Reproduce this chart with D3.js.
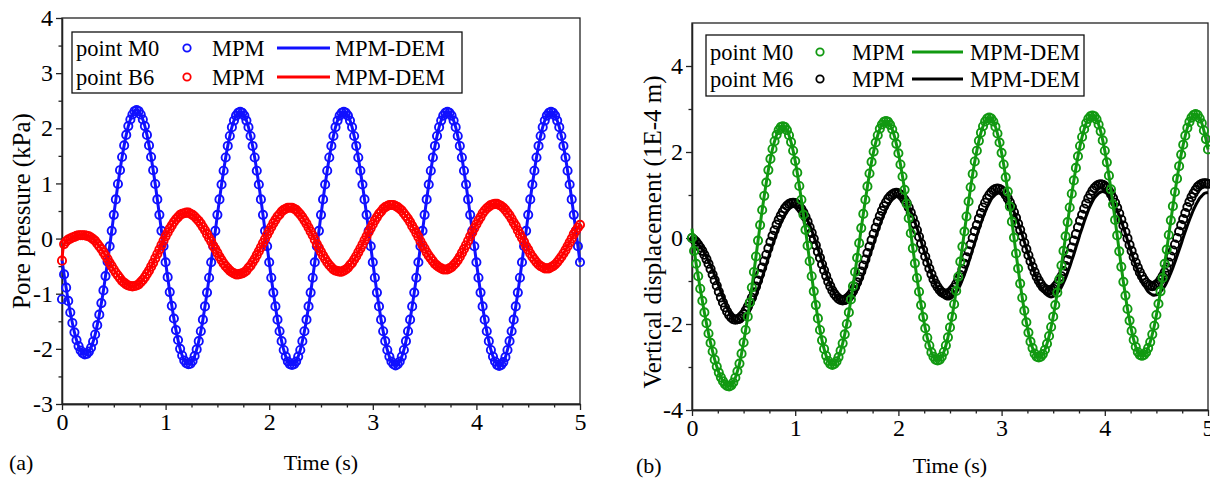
<!DOCTYPE html>
<html>
<head>
<meta charset="utf-8">
<script src="https://cdn.jsdelivr.net/npm/d3@7"></script>
<style>
  body { margin: 0; background: #fff; }
  svg { display: block; }
</style>
</head>
<body>
<svg id="fig" width="1210" height="478"></svg>
<script>
// Sampling interval of the recorded histories (s)
const timeStep = 0.02;

// Panel (a): pore pressure (kPa)
const m0PressureMpm = [
  -1.10,-0.65,-0.89,-1.13,-1.34,-1.53,-1.70,-1.84,-1.95,-2.03,-2.08,
  -2.10,-2.09,-2.05,-1.98,-1.87,-1.74,-1.57,-1.38,-1.17,-0.94,-0.68,-0.42,-0.14,0.14,0.43,0.71,0.99,1.24,1.48,1.69,1.88,2.04,2.16,2.25,2.31,2.33,
  2.31,2.25,2.16,2.04,1.88,1.69,1.48,1.24,0.99,0.71,0.43,0.14,-0.14,-0.43,-0.70,-0.97,-1.22,-1.45,-1.66,-1.84,-2.00,-2.12,-2.21,-2.26,-2.28,
  -2.27,-2.22,-2.13,-2.01,-1.86,-1.68,-1.47,-1.23,-0.98,-0.71,-0.43,-0.14,0.14,0.43,0.71,0.98,1.23,1.47,1.68,1.86,2.02,2.14,2.23,2.28,2.30,2.28,2.23,2.14,2.02,1.86,1.68,1.47,1.23,0.98,0.71,0.43,0.14,-0.14,-0.43,-0.71,-0.98,-1.23,-1.47,-1.68,-1.86,-2.02,-2.14,-2.23,-2.28,-2.29,
  -2.28,-2.23,-2.14,-2.02,-1.86,-1.68,-1.47,-1.23,-0.98,-0.71,-0.43,-0.14,0.14,0.43,0.71,0.98,1.23,1.47,1.68,1.86,2.02,2.14,2.23,2.28,2.30,2.28,2.23,2.14,2.02,1.86,1.68,1.47,1.23,0.98,0.71,0.43,0.14,-0.14,-0.43,-0.71,-0.98,-1.23,-1.47,-1.68,-1.86,-2.02,-2.14,-2.23,-2.28,-2.30,
  -2.28,-2.23,-2.14,-2.02,-1.86,-1.68,-1.47,-1.23,-0.98,-0.71,-0.43,-0.14,0.14,0.43,0.71,0.98,1.23,1.47,1.68,1.86,2.02,2.14,2.23,2.28,2.30,2.28,2.23,2.14,2.02,1.86,1.68,1.47,1.23,0.98,0.71,0.43,0.14,-0.14,-0.43,-0.71,-0.98,-1.23,-1.47,-1.68,-1.86,-2.02,-2.14,-2.23,-2.29,-2.31,
  -2.29,-2.24,-2.15,-2.02,-1.86,-1.68,-1.47,-1.23,-0.98,-0.71,-0.43,-0.14,0.14,0.43,0.71,0.98,1.23,1.47,1.68,1.86,2.02,2.14,2.23,2.28,2.30,2.28,2.23,2.14,2.02,1.86,1.68,1.47,1.23,0.98,0.71,0.43,0.14,-0.14,-0.43
];
const m0PressureDem = [
  -0.39,-0.65,-0.89,-1.13,-1.34,-1.53,-1.70,-1.84,-1.95,-2.03,-2.08,
  -2.10,-2.09,-2.05,-1.98,-1.87,-1.74,-1.57,-1.38,-1.17,-0.94,-0.68,-0.42,-0.14,0.14,0.43,0.71,0.99,1.24,1.48,1.69,1.88,2.04,2.16,2.25,2.31,2.33,
  2.31,2.25,2.16,2.04,1.88,1.69,1.48,1.24,0.99,0.71,0.43,0.14,-0.14,-0.43,-0.70,-0.97,-1.22,-1.45,-1.66,-1.84,-2.00,-2.12,-2.21,-2.26,-2.28,
  -2.27,-2.22,-2.13,-2.01,-1.86,-1.68,-1.47,-1.23,-0.98,-0.71,-0.43,-0.14,0.14,0.43,0.71,0.98,1.23,1.47,1.68,1.86,2.02,2.14,2.23,2.28,2.30,2.28,2.23,2.14,2.02,1.86,1.68,1.47,1.23,0.98,0.71,0.43,0.14,-0.14,-0.43,-0.71,-0.98,-1.23,-1.47,-1.68,-1.86,-2.02,-2.14,-2.23,-2.28,-2.29,
  -2.28,-2.23,-2.14,-2.02,-1.86,-1.68,-1.47,-1.23,-0.98,-0.71,-0.43,-0.14,0.14,0.43,0.71,0.98,1.23,1.47,1.68,1.86,2.02,2.14,2.23,2.28,2.30,2.28,2.23,2.14,2.02,1.86,1.68,1.47,1.23,0.98,0.71,0.43,0.14,-0.14,-0.43,-0.71,-0.98,-1.23,-1.47,-1.68,-1.86,-2.02,-2.14,-2.23,-2.28,-2.30,
  -2.28,-2.23,-2.14,-2.02,-1.86,-1.68,-1.47,-1.23,-0.98,-0.71,-0.43,-0.14,0.14,0.43,0.71,0.98,1.23,1.47,1.68,1.86,2.02,2.14,2.23,2.28,2.30,2.28,2.23,2.14,2.02,1.86,1.68,1.47,1.23,0.98,0.71,0.43,0.14,-0.14,-0.43,-0.71,-0.98,-1.23,-1.47,-1.68,-1.86,-2.02,-2.14,-2.23,-2.29,-2.31,
  -2.29,-2.24,-2.15,-2.02,-1.86,-1.68,-1.47,-1.23,-0.98,-0.71,-0.43,-0.14,0.14,0.43,0.71,0.98,1.23,1.47,1.68,1.86,2.02,2.14,2.23,2.28,2.30,2.28,2.23,2.14,2.02,1.86,1.68,1.47,1.23,0.98,0.71,0.43,0.14,-0.14,-0.43
];
const b6PressureMpm = [
  -0.40,-0.10,-0.05,-0.02,0.00,0.02,0.03,0.05,0.06,0.06,0.06,0.06,
  0.05,0.04,0.02,-0.01,-0.04,-0.09,-0.14,-0.19,-0.25,-0.31,-0.37,-0.44,-0.50,-0.56,-0.62,-0.67,-0.72,-0.77,-0.80,-0.83,-0.85,-0.86,-0.87,
  -0.86,-0.85,-0.83,-0.79,-0.75,-0.70,-0.64,-0.58,-0.51,-0.44,-0.36,-0.28,-0.20,-0.12,-0.04,0.04,0.11,0.18,0.24,0.30,0.35,0.39,0.43,0.45,0.46,0.47,
  0.47,0.45,0.43,0.40,0.36,0.32,0.27,0.21,0.15,0.08,0.01,-0.05,-0.13,-0.19,-0.26,-0.33,-0.39,-0.45,-0.50,-0.54,-0.58,-0.61,-0.63,-0.65,-0.65,
  -0.64,-0.63,-0.61,-0.58,-0.53,-0.49,-0.43,-0.37,-0.30,-0.23,-0.16,-0.08,-0.01,0.07,0.14,0.21,0.28,0.34,0.40,0.44,0.49,0.52,0.54,0.56,0.56,
  0.56,0.54,0.52,0.48,0.44,0.39,0.33,0.27,0.20,0.13,0.06,-0.02,-0.10,-0.17,-0.24,-0.31,-0.37,-0.43,-0.48,-0.52,-0.56,-0.58,-0.59,-0.60,
  -0.60,-0.58,-0.56,-0.53,-0.48,-0.44,-0.38,-0.32,-0.25,-0.18,-0.11,-0.03,0.04,0.12,0.19,0.26,0.33,0.39,0.45,0.49,0.54,0.57,0.59,0.61,0.61,
  0.61,0.59,0.57,0.54,0.51,0.46,0.41,0.36,0.30,0.23,0.17,0.10,0.03,-0.05,-0.12,-0.18,-0.25,-0.31,-0.36,-0.41,-0.46,-0.49,-0.52,-0.54,-0.56,-0.56,
  -0.56,-0.54,-0.52,-0.48,-0.44,-0.39,-0.33,-0.26,-0.19,-0.12,-0.04,0.04,0.11,0.19,0.26,0.33,0.39,0.46,0.51,0.55,0.58,0.61,0.62,0.63,
  0.63,0.61,0.59,0.56,0.52,0.47,0.42,0.36,0.29,0.23,0.15,0.08,0.01,-0.06,-0.14,-0.20,-0.27,-0.33,-0.38,-0.43,-0.47,-0.50,-0.52,-0.54,-0.54,
  -0.54,-0.52,-0.50,-0.47,-0.43,-0.38,-0.33,-0.27,-0.21,-0.14,-0.07,0.00,0.08,0.14,0.20,0.25
];
const b6PressureDem = [
  -0.40,-0.10,-0.05,-0.02,0.00,0.02,0.03,0.05,0.06,0.06,0.06,0.06,
  0.05,0.04,0.02,-0.01,-0.04,-0.09,-0.14,-0.19,-0.25,-0.31,-0.37,-0.44,-0.50,-0.56,-0.62,-0.67,-0.72,-0.77,-0.80,-0.83,-0.85,-0.86,-0.87,
  -0.86,-0.85,-0.83,-0.79,-0.75,-0.70,-0.64,-0.58,-0.51,-0.44,-0.36,-0.28,-0.20,-0.12,-0.04,0.04,0.11,0.18,0.24,0.30,0.35,0.39,0.43,0.45,0.46,0.47,
  0.47,0.45,0.43,0.40,0.36,0.32,0.27,0.21,0.15,0.08,0.01,-0.05,-0.13,-0.19,-0.26,-0.33,-0.39,-0.45,-0.50,-0.54,-0.58,-0.61,-0.63,-0.65,-0.65,
  -0.64,-0.63,-0.61,-0.58,-0.53,-0.49,-0.43,-0.37,-0.30,-0.23,-0.16,-0.08,-0.01,0.07,0.14,0.21,0.28,0.34,0.40,0.44,0.49,0.52,0.54,0.56,0.56,
  0.56,0.54,0.52,0.48,0.44,0.39,0.33,0.27,0.20,0.13,0.06,-0.02,-0.10,-0.17,-0.24,-0.31,-0.37,-0.43,-0.48,-0.52,-0.56,-0.58,-0.59,-0.60,
  -0.60,-0.58,-0.56,-0.53,-0.48,-0.44,-0.38,-0.32,-0.25,-0.18,-0.11,-0.03,0.04,0.12,0.19,0.26,0.33,0.39,0.45,0.49,0.54,0.57,0.59,0.61,0.61,
  0.61,0.59,0.57,0.54,0.51,0.46,0.41,0.36,0.30,0.23,0.17,0.10,0.03,-0.05,-0.12,-0.18,-0.25,-0.31,-0.36,-0.41,-0.46,-0.49,-0.52,-0.54,-0.56,-0.56,
  -0.56,-0.54,-0.52,-0.48,-0.44,-0.39,-0.33,-0.26,-0.19,-0.12,-0.04,0.04,0.11,0.19,0.26,0.33,0.39,0.46,0.51,0.55,0.58,0.61,0.62,0.63,
  0.63,0.61,0.59,0.56,0.52,0.47,0.42,0.36,0.29,0.23,0.15,0.08,0.01,-0.06,-0.14,-0.20,-0.27,-0.33,-0.38,-0.43,-0.47,-0.50,-0.52,-0.54,-0.54,
  -0.54,-0.52,-0.50,-0.47,-0.43,-0.38,-0.33,-0.27,-0.21,-0.14,-0.07,0.00,0.08,0.14,0.20,0.25
];

// Panel (b): vertical displacement (1E-4 m)
const m0DispMpm = [
  0.00,-0.30,-0.60,-0.89,-1.18,-1.46,-1.73,-1.98,-2.22,-2.44,-2.64,-2.83,-2.99,-3.13,-3.24,-3.33,-3.40,-3.44,-3.45,
  -3.43,-3.36,-3.25,-3.10,-2.92,-2.69,-2.43,-2.14,-1.83,-1.50,-1.15,-0.79,-0.43,-0.06,0.30,0.65,0.98,1.29,1.58,1.84,2.07,2.25,2.40,2.51,2.58,2.60,
  2.58,2.51,2.39,2.23,2.03,1.79,1.52,1.21,0.89,0.54,0.19,-0.18,-0.54,-0.89,-1.24,-1.56,-1.87,-2.14,-2.38,-2.58,-2.74,-2.86,-2.93,-2.95,
  -2.93,-2.87,-2.77,-2.62,-2.45,-2.24,-2.00,-1.73,-1.43,-1.12,-0.79,-0.46,-0.12,0.23,0.56,0.89,1.20,1.50,1.77,2.01,2.22,2.39,2.54,2.64,2.70,2.72,
  2.70,2.63,2.53,2.38,2.19,1.97,1.71,1.43,1.12,0.80,0.46,0.11,-0.24,-0.59,-0.93,-1.25,-1.56,-1.84,-2.10,-2.32,-2.50,-2.66,-2.76,-2.83,-2.85,
  -2.83,-2.76,-2.65,-2.50,-2.31,-2.08,-1.83,-1.54,-1.23,-0.90,-0.55,-0.20,0.15,0.50,0.85,1.18,1.49,1.78,2.03,2.26,2.45,2.60,2.71,2.78,2.80,
  2.78,2.71,2.59,2.43,2.22,1.98,1.71,1.41,1.08,0.73,0.38,0.01,-0.36,-0.71,-1.06,-1.39,-1.69,-1.96,-2.20,-2.41,-2.56,-2.69,-2.76,-2.78,
  -2.76,-2.70,-2.60,-2.46,-2.28,-2.07,-1.83,-1.56,-1.27,-0.96,-0.64,-0.30,0.04,0.37,0.71,1.03,1.34,1.63,1.90,2.14,2.35,2.53,2.67,2.77,2.83,2.85,
  2.83,2.76,2.64,2.48,2.27,2.03,1.76,1.45,1.13,0.78,0.42,0.06,-0.31,-0.67,-1.02,-1.34,-1.65,-1.92,-2.16,-2.37,-2.53,-2.65,-2.72,-2.74,
  -2.72,-2.66,-2.56,-2.42,-2.24,-2.04,-1.79,-1.53,-1.24,-0.93,-0.60,-0.27,0.07,0.41,0.74,1.07,1.38,1.67,1.94,2.17,2.38,2.56,2.70,2.80,2.86,2.88,
  2.86,2.78,2.67,2.50,2.30,2.06
];
const m0DispDem = [
  0.22,-0.22,-0.60,-0.89,-1.18,-1.46,-1.73,-1.98,-2.22,-2.44,-2.64,-2.83,-2.99,-3.13,-3.24,-3.33,-3.40,-3.44,-3.45,
  -3.43,-3.36,-3.25,-3.10,-2.92,-2.69,-2.43,-2.14,-1.83,-1.50,-1.15,-0.79,-0.43,-0.06,0.30,0.65,0.98,1.29,1.58,1.84,2.07,2.25,2.40,2.51,2.58,2.60,
  2.58,2.51,2.39,2.23,2.03,1.79,1.52,1.21,0.89,0.54,0.19,-0.18,-0.54,-0.89,-1.24,-1.56,-1.87,-2.14,-2.38,-2.58,-2.74,-2.86,-2.93,-2.95,
  -2.93,-2.87,-2.77,-2.62,-2.45,-2.24,-2.00,-1.73,-1.43,-1.12,-0.79,-0.46,-0.12,0.23,0.56,0.89,1.20,1.50,1.77,2.01,2.22,2.39,2.54,2.64,2.70,2.72,
  2.70,2.63,2.53,2.38,2.19,1.97,1.71,1.43,1.12,0.80,0.46,0.11,-0.24,-0.59,-0.93,-1.25,-1.56,-1.84,-2.10,-2.32,-2.50,-2.66,-2.76,-2.83,-2.85,
  -2.83,-2.76,-2.65,-2.50,-2.31,-2.08,-1.83,-1.54,-1.23,-0.90,-0.55,-0.20,0.15,0.50,0.85,1.18,1.49,1.78,2.03,2.26,2.45,2.60,2.71,2.78,2.80,
  2.78,2.71,2.59,2.43,2.22,1.98,1.71,1.41,1.08,0.73,0.38,0.01,-0.36,-0.71,-1.06,-1.39,-1.69,-1.96,-2.20,-2.41,-2.56,-2.69,-2.76,-2.78,
  -2.76,-2.70,-2.60,-2.46,-2.28,-2.07,-1.83,-1.56,-1.27,-0.96,-0.64,-0.30,0.04,0.37,0.71,1.03,1.34,1.63,1.90,2.14,2.35,2.53,2.67,2.77,2.83,2.85,
  2.83,2.76,2.64,2.48,2.27,2.03,1.76,1.45,1.13,0.78,0.42,0.06,-0.31,-0.67,-1.02,-1.34,-1.65,-1.92,-2.16,-2.37,-2.53,-2.65,-2.72,-2.74,
  -2.72,-2.66,-2.56,-2.42,-2.24,-2.04,-1.79,-1.53,-1.24,-0.93,-0.60,-0.27,0.07,0.41,0.74,1.07,1.38,1.67,1.94,2.17,2.38,2.56,2.70,2.80,2.86,2.88,
  2.86,2.78,2.67,2.50,2.30,2.06
];
const m6DispMpm = [
  0.00,-0.04,-0.09,-0.15,-0.22,-0.30,-0.39,-0.49,-0.60,-0.72,-0.85,-0.98,-1.11,-1.25,-1.38,-1.50,-1.61,-1.71,-1.79,-1.85,-1.89,-1.90,
  -1.89,-1.87,-1.82,-1.77,-1.69,-1.60,-1.50,-1.39,-1.26,-1.13,-0.99,-0.84,-0.69,-0.54,-0.39,-0.24,-0.09,0.05,0.18,0.31,0.42,0.52,0.61,0.69,0.75,0.79,0.81,0.82,
  0.81,0.78,0.73,0.67,0.59,0.49,0.38,0.25,0.12,-0.02,-0.17,-0.32,-0.46,-0.61,-0.75,-0.88,-1.01,-1.12,-1.22,-1.30,-1.36,-1.41,-1.44,-1.45,
  -1.44,-1.41,-1.37,-1.31,-1.23,-1.14,-1.03,-0.91,-0.78,-0.64,-0.50,-0.35,-0.20,-0.05,0.10,0.24,0.38,0.51,0.63,0.74,0.83,0.91,0.97,1.01,1.04,1.05,
  1.04,1.01,0.96,0.89,0.81,0.71,0.59,0.46,0.33,0.18,0.03,-0.13,-0.28,-0.43,-0.57,-0.71,-0.84,-0.96,-1.06,-1.14,-1.21,-1.26,-1.29,-1.30,
  -1.29,-1.26,-1.21,-1.15,-1.07,-0.97,-0.86,-0.73,-0.60,-0.45,-0.31,-0.15,0.00,0.16,0.30,0.45,0.58,0.71,0.82,0.92,1.00,1.06,1.11,1.14,1.15,
  1.14,1.11,1.07,1.00,0.92,0.83,0.72,0.60,0.47,0.33,0.19,0.04,-0.11,-0.26,-0.40,-0.54,-0.67,-0.79,-0.90,-0.99,-1.07,-1.14,-1.18,-1.21,-1.22,
  -1.21,-1.18,-1.13,-1.07,-0.98,-0.89,-0.77,-0.65,-0.51,-0.37,-0.22,-0.06,0.09,0.25,0.40,0.54,0.68,0.80,0.92,1.01,1.10,1.16,1.21,1.24,1.25,
  1.24,1.21,1.17,1.10,1.02,0.93,0.82,0.70,0.57,0.43,0.29,0.14,-0.01,-0.16,-0.30,-0.44,-0.57,-0.69,-0.80,-0.89,-0.97,-1.04,-1.08,-1.11,-1.12,
  -1.11,-1.08,-1.04,-0.97,-0.89,-0.80,-0.69,-0.57,-0.43,-0.29,-0.15,0.00,0.15,0.30,0.44,0.58,0.72,0.84,0.95,1.04,1.12,1.19,1.23,1.26,1.27,
  1.27,1.26
];
const m6DispDem = [
  0.00,-0.03,-0.08,-0.14,-0.20,-0.27,-0.35,-0.44,-0.54,-0.64,-0.75,-0.87,-0.99,-1.12,-1.25,-1.38,-1.50,-1.62,-1.73,-1.82,-1.90,-1.95,-1.97,
  -1.96,-1.94,-1.89,-1.84,-1.76,-1.68,-1.57,-1.46,-1.34,-1.20,-1.06,-0.92,-0.77,-0.62,-0.46,-0.31,-0.17,-0.03,0.11,0.23,0.34,0.44,0.53,0.61,0.67,0.71,0.73,0.74,
  0.73,0.70,0.65,0.59,0.51,0.41,0.30,0.18,0.04,-0.10,-0.24,-0.39,-0.54,-0.68,-0.82,-0.96,-1.08,-1.19,-1.29,-1.37,-1.43,-1.48,-1.51,-1.52,
  -1.51,-1.48,-1.44,-1.38,-1.30,-1.21,-1.10,-0.98,-0.85,-0.72,-0.57,-0.42,-0.28,-0.13,0.02,0.17,0.30,0.43,0.55,0.66,0.75,0.83,0.89,0.93,0.96,0.97,
  0.96,0.93,0.88,0.81,0.72,0.62,0.50,0.37,0.23,0.09,-0.07,-0.23,-0.38,-0.53,-0.68,-0.82,-0.95,-1.07,-1.17,-1.26,-1.33,-1.38,-1.41,-1.42,
  -1.41,-1.38,-1.33,-1.27,-1.18,-1.09,-0.97,-0.85,-0.71,-0.57,-0.42,-0.26,-0.11,0.05,0.20,0.34,0.48,0.60,0.72,0.81,0.90,0.96,1.01,1.04,1.05,
  1.04,1.01,0.97,0.90,0.82,0.72,0.61,0.49,0.36,0.21,0.07,-0.08,-0.24,-0.39,-0.53,-0.68,-0.81,-0.93,-1.04,-1.14,-1.22,-1.29,-1.33,-1.36,-1.37,
  -1.36,-1.33,-1.28,-1.22,-1.14,-1.04,-0.93,-0.80,-0.67,-0.52,-0.38,-0.22,-0.07,0.09,0.23,0.38,0.51,0.64,0.75,0.85,0.93,0.99,1.04,1.07,1.08,
  1.07,1.04,1.00,0.93,0.85,0.75,0.64,0.52,0.39,0.25,0.10,-0.05,-0.20,-0.35,-0.50,-0.64,-0.77,-0.89,-1.00,-1.10,-1.18,-1.25,-1.29,-1.32,-1.33,
  -1.32,-1.30,-1.25,-1.19,-1.12,-1.03,-0.93,-0.81,-0.69,-0.56,-0.42,-0.28,-0.14,0.01,0.15,0.29,0.42,0.54,0.66,0.76,0.85,0.93,0.98,1.03,1.05,1.06
];

// Axis ticks
const timeTicks = [0, 1, 2, 3, 4, 5];
const pressureTicks = [-3, -2, -1, 0, 1, 2, 3, 4];
const dispTicks = [-4, -2, 0, 2, 4];

// Legend text
const legendNamesA = ["point M0", "point B6"];
const legendNamesB = ["point M0", "point M6"];
const methodNames = ["MPM", "MPM-DEM"];

const FONT = "'Liberation Serif', 'Times New Roman', serif";
const svg = d3.select("#fig");

const panels = [
  {
    tag: "(a)", tagX: 9, labelY: 470,
    box: { left: 62, right: 580, top: 18, bottom: 404 },
    yDomain: [-3, 4], yTicks: pressureTicks, yMinorStep: 0.5,
    yTitle: "Pore pressure (kPa)", yTitleX: 21, yTitleY: 211,
    series: [
      { name: legendNamesA[0], color: "#1010ff", mpm: m0PressureMpm, dem: m0PressureDem },
      { name: legendNamesA[1], color: "#ff0000", mpm: b6PressureMpm, dem: b6PressureDem }
    ],
    drawOrder: [0, 1],
    legend: { x: 72, y: 32, w: 390, h: 61, rowY: [48, 77], nameX: 76, markX: 187, mpmX: 212, lineX: [277, 330], demX: 335 }
  },
  {
    tag: "(b)", tagX: 636, labelY: 473,
    box: { left: 692, right: 1208, top: 23, bottom: 410 },
    yDomain: [-4, 5], yTicks: dispTicks, yMinorStep: 1,
    yTitle: "Vertical displacement (1E-4 m)", yTitleX: 652, yTitleY: 232,
    series: [
      { name: legendNamesB[0], color: "#119911", mpm: m0DispMpm, dem: m0DispDem },
      { name: legendNamesB[1], color: "#000000", mpm: m6DispMpm, dem: m6DispDem }
    ],
    drawOrder: [1, 0],
    legend: { x: 706, y: 35, w: 378, h: 61, rowY: [52, 79], nameX: 710, markX: 820, mpmX: 852, lineX: [912, 963], demX: 970 }
  }
];

function styleAxisText(g, size) {
  g.selectAll("text").attr("font-family", FONT).attr("font-size", size).attr("fill", "#000");
  g.selectAll("path, line").attr("stroke", "#222").attr("stroke-width", 1.3);
}

function drawPanel(p) {
  const b = p.box;
  const x = d3.scaleLinear().domain([0, 5]).range([b.left, b.right]);
  const y = d3.scaleLinear().domain(p.yDomain).range([b.bottom, b.top]);
  const g = svg.append("g");

  // frame
  g.append("rect")
    .attr("x", b.left).attr("y", b.top)
    .attr("width", b.right - b.left).attr("height", b.bottom - b.top)
    .attr("fill", "none").attr("stroke", "#222").attr("stroke-width", 1.3);

  // minor ticks
  const xMinor = d3.range(0, 5.001, 0.25).filter(v => Math.abs(v - Math.round(v)) > 1e-6);
  const yMinor = d3.range(p.yDomain[0], p.yDomain[1] + 1e-6, p.yMinorStep)
    .filter(v => !p.yTicks.some(t => Math.abs(t - v) < 1e-6) && v < p.yDomain[1]);

  const gxMinor = g.append("g").attr("transform", `translate(0,${b.bottom})`)
    .call(d3.axisBottom(x).tickValues(xMinor).tickSize(3.5).tickSizeOuter(0).tickFormat(""));
  styleAxisText(gxMinor, 24);
  const gyMinor = g.append("g").attr("transform", `translate(${b.left},0)`)
    .call(d3.axisLeft(y).tickValues(yMinor).tickSize(3.5).tickSizeOuter(0).tickFormat(""));
  styleAxisText(gyMinor, 24);

  // major axes
  const gx = g.append("g").attr("transform", `translate(0,${b.bottom})`)
    .call(d3.axisBottom(x).tickValues(timeTicks).tickSize(6).tickSizeOuter(0).tickPadding(3).tickFormat(d => String(d)));
  styleAxisText(gx, 24);
  const gy = g.append("g").attr("transform", `translate(${b.left},0)`)
    .call(d3.axisLeft(y).tickValues(p.yTicks).tickSize(6).tickSizeOuter(0).tickPadding(3).tickFormat(d => String(d)));
  styleAxisText(gy, 24);

  // series: markers then line for each point
  const line = d3.line()
    .x((d, i) => x(i * timeStep))
    .y(d => y(d))
    .curve(d3.curveCatmullRom);

  p.drawOrder.forEach(k => {
    const s = p.series[k];
    g.append("g").selectAll("circle").data(s.mpm).join("circle")
      .attr("cx", (d, i) => x(i * timeStep))
      .attr("cy", d => y(d))
      .attr("r", 4.1)
      .attr("fill", "none")
      .attr("stroke", s.color)
      .attr("stroke-width", 1.9);
    g.append("path").datum(s.dem)
      .attr("d", line)
      .attr("fill", "none")
      .attr("stroke", s.color)
      .attr("stroke-width", 3)
      .attr("stroke-linejoin", "round");
  });

  // legend
  const L = p.legend;
  const lg = g.append("g");
  lg.append("rect").attr("x", L.x).attr("y", L.y).attr("width", L.w).attr("height", L.h)
    .attr("fill", "#fff").attr("stroke", "#111").attr("stroke-width", 1.3);
  p.series.forEach((s, i) => {
    const cy = L.rowY[i];
    const base = cy + 7.5;
    lg.append("text").attr("x", L.nameX).attr("y", base).text(s.name);
    lg.append("circle").attr("cx", L.markX).attr("cy", cy).attr("r", 3.7)
      .attr("fill", "none").attr("stroke", s.color).attr("stroke-width", 1.8);
    lg.append("text").attr("x", L.mpmX).attr("y", base).text(methodNames[0]);
    lg.append("line").attr("x1", L.lineX[0]).attr("x2", L.lineX[1]).attr("y1", cy).attr("y2", cy)
      .attr("stroke", s.color).attr("stroke-width", 3);
    lg.append("text").attr("x", L.demX).attr("y", base).text(methodNames[1]);
  });
  lg.selectAll("text").attr("font-family", FONT).attr("font-size", 22.5).attr("fill", "#000");

  // titles
  g.append("text")
    .attr("x", (b.left + b.right) / 2).attr("y", p.labelY)
    .attr("text-anchor", "middle")
    .attr("font-family", FONT).attr("font-size", 22)
    .text("Time (s)");
  g.append("text")
    .attr("transform", `translate(${p.yTitleX},${p.yTitleY}) rotate(-90)`)
    .attr("text-anchor", "middle").attr("dy", "0.35em")
    .attr("font-family", FONT).attr("font-size", 25)
    .text(p.yTitle);
  g.append("text")
    .attr("x", p.tagX).attr("y", p.labelY)
    .attr("font-family", FONT).attr("font-size", 22)
    .text(p.tag);
}

panels.forEach(drawPanel);
</script>
</body>
</html>
